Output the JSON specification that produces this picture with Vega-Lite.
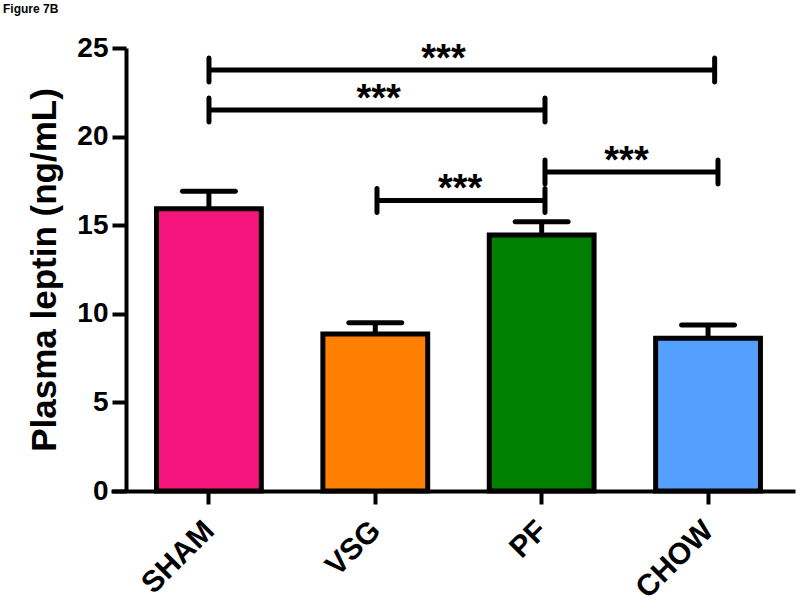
{
  "$schema": "https://vega.github.io/schema/vega-lite/v6.json",
  "autosize": {"type": "none"},
  "width": 680,
  "height": 443,
  "padding": {"left": 113, "top": 48, "right": 7, "bottom": 124},
  "background": "white",
  "title": {"text": "Figure 7B", "anchor": "start", "frame": "group", "dx": -110, "offset": 18, "fontSize": 12, "fontWeight": "bold", "font": "Liberation Sans", "color": "#000"},
  "config": {
    "view": {"stroke": null},
    "font": "Liberation Sans",
    "axis": {"grid": false, "domainColor": "#000", "tickColor": "#000", "labelColor": "#000", "titleColor": "#000", "labelFont": "Liberation Sans", "titleFont": "Liberation Sans", "labelFontWeight": "bold", "titleFontWeight": "bold"}
  },
  "datasets": {
    "bars": [
      {"group": "SHAM", "leptin": 15.93, "err_hi": 16.92},
      {"group": "VSG", "leptin": 8.86, "err_hi": 9.5},
      {"group": "PF", "leptin": 14.45, "err_hi": 15.2},
      {"group": "CHOW", "leptin": 8.62, "err_hi": 9.37}
    ],
    "sig": [
      {"pair": "SHAM-CHOW", "x1": 0.5, "x2": 3.54, "y": 23.76, "sx": 1.91, "label": "***"},
      {"pair": "SHAM-PF", "x1": 0.5, "x2": 2.52, "y": 21.5, "sx": 1.52, "label": "***"},
      {"pair": "VSG-PF", "x1": 1.51, "x2": 2.52, "y": 16.4, "sx": 2.01, "label": "***"},
      {"pair": "PF-CHOW", "x1": 2.52, "x2": 3.56, "y": 18.0, "sx": 3.01, "label": "***"}
    ]
  },
  "layer": [
    {
      "data": {"name": "bars"},
      "encoding": {
        "x": {"field": "group", "type": "nominal", "sort": null,
          "scale": {"type": "band", "paddingInner": 0.37, "paddingOuter": 0.2285, "align": 0.572},
          "axis": {"title": null, "labelAngle": -45, "labelFontSize": 30, "labelPadding": 11, "labelOffset": -10, "domainWidth": 4, "tickWidth": 4, "tickSize": 13, "domainCap": "square"}}
      },
      "layer": [
        {
          "mark": {"type": "bar", "stroke": "#000", "strokeWidth": 5},
          "encoding": {
            "y": {"field": "leptin", "type": "quantitative",
              "scale": {"domain": [0, 25], "nice": false},
              "axis": {"title": "Plasma leptin (ng/mL)", "values": [0, 5, 10, 15, 20, 25], "offset": -13, "labelFontSize": 28, "titleFontSize": 35, "labelPadding": 4, "titlePadding": 14, "domainWidth": 4, "tickWidth": 4, "tickSize": 14}},
            "fill": {"field": "group", "type": "nominal", "sort": null, "legend": null,
              "scale": {"domain": ["SHAM", "VSG", "PF", "CHOW"], "range": ["#F5157D", "#FF8000", "#007F00", "#55A0FF"]}}
          }
        },
        {
          "mark": {"type": "rule", "strokeWidth": 5, "color": "#000"},
          "encoding": {
            "y": {"field": "leptin", "type": "quantitative"},
            "y2": {"field": "err_hi"}
          }
        },
        {
          "mark": {"type": "tick", "size": 58, "thickness": 5, "color": "#000", "opacity": 1, "cornerRadius": 2.5},
          "encoding": {
            "y": {"field": "err_hi", "type": "quantitative"}
          }
        }
      ]
    },
    {
      "data": {"name": "sig"},
      "encoding": {
        "x": {"field": "x1", "type": "quantitative", "scale": {"domain": [-0.077, 4.011], "nice": false, "zero": false}, "axis": null}
      },
      "layer": [
        {
          "mark": {"type": "rule", "strokeWidth": 5, "color": "#000"},
          "encoding": {
            "x2": {"field": "x2"},
            "y": {"field": "y", "type": "quantitative"}
          }
        },
        {
          "transform": [{"fold": ["x1", "x2"], "as": ["end", "xe"]}],
          "mark": {"type": "tick", "orient": "vertical", "size": 29, "thickness": 5, "color": "#000", "opacity": 1, "cornerRadius": 2.5},
          "encoding": {
            "x": {"field": "xe", "type": "quantitative"},
            "y": {"field": "y", "type": "quantitative"}
          }
        },
        {
          "mark": {"type": "text", "fontSize": 38, "fontWeight": "bold", "font": "Liberation Sans", "baseline": "alphabetic", "align": "center", "dy": 1, "color": "#000"},
          "encoding": {
            "x": {"field": "sx", "type": "quantitative"},
            "y": {"field": "y", "type": "quantitative"},
            "text": {"field": "label"}
          }
        }
      ]
    }
  ],
  "resolve": {"scale": {"x": "independent"}, "axis": {"x": "independent"}}
}
